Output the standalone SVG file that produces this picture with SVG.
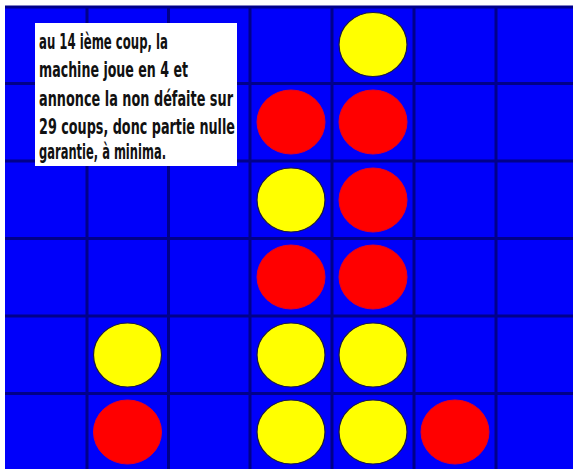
<svg xmlns="http://www.w3.org/2000/svg" width="573" height="469" viewBox="0 0 573 469">
  <defs>
    <filter id="soft" x="-5%" y="-5%" width="110%" height="110%">
      <feGaussianBlur stdDeviation="0.7"/>
    </filter>
  </defs>
  <style>
    .grid line { stroke: #00008a; stroke-width: 3; }
    .y { fill: #ffff00; stroke: #1a1a40; stroke-width: 1.2; }
    .r { fill: #ff0000; stroke: #e80020; stroke-width: 1; }
    .note text { font-family: "DejaVu Sans Condensed", "DejaVu Sans", "Liberation Sans", sans-serif; font-weight: bold; font-size: 22px; fill: #111111; }
  </style>
  <rect x="0" y="0" width="573" height="469" fill="#ffffff"/>
  <rect x="5" y="6" width="568" height="463" fill="#0000fa"/>
  <g class="grid" filter="url(#soft)">
    <line x1="5" y1="7" x2="573" y2="7"/>
    <line x1="5" y1="83.5" x2="573" y2="83.5"/>
    <line x1="5" y1="161" x2="573" y2="161"/>
    <line x1="5" y1="238.5" x2="573" y2="238.5"/>
    <line x1="5" y1="316" x2="573" y2="316"/>
    <line x1="5" y1="393.5" x2="573" y2="393.5"/>
    <line x1="87" y1="6" x2="87" y2="469"/>
    <line x1="168.5" y1="6" x2="168.5" y2="469"/>
    <line x1="250" y1="6" x2="250" y2="469"/>
    <line x1="332" y1="6" x2="332" y2="469"/>
    <line x1="414" y1="6" x2="414" y2="469"/>
    <line x1="496" y1="6" x2="496" y2="469"/>
  </g>
  <g id="pieces">
    <g id="p-r0-c4"><ellipse class="y" cx="373" cy="44.5" rx="34" ry="32"/></g>
    <g id="p-r1-c3"><ellipse class="r" cx="291" cy="122" rx="34" ry="32"/></g>
    <g id="p-r1-c4"><ellipse class="r" cx="373" cy="122" rx="34" ry="32"/></g>
    <g id="p-r2-c3"><ellipse class="y" cx="291" cy="200" rx="34" ry="32"/></g>
    <g id="p-r2-c4"><ellipse class="r" cx="373" cy="200" rx="34" ry="32"/></g>
    <g id="p-r3-c3"><ellipse class="r" cx="291" cy="277" rx="34" ry="32"/></g>
    <g id="p-r3-c4"><ellipse class="r" cx="373" cy="277" rx="34" ry="32"/></g>
    <g id="p-r4-c1"><ellipse class="y" cx="127.5" cy="355" rx="34" ry="32"/></g>
    <g id="p-r4-c3"><ellipse class="y" cx="291" cy="355" rx="34" ry="32"/></g>
    <g id="p-r4-c4"><ellipse class="y" cx="373" cy="355" rx="34" ry="32"/></g>
    <g id="p-r5-c1"><ellipse class="r" cx="127.5" cy="432" rx="34" ry="32"/></g>
    <g id="p-r5-c3"><ellipse class="y" cx="291" cy="432" rx="34" ry="32"/></g>
    <g id="p-r5-c4"><ellipse class="y" cx="373" cy="432" rx="34" ry="32"/></g>
    <g id="p-r5-c5"><ellipse class="r" cx="455" cy="432" rx="34" ry="32"/></g>
  </g>
  <g id="note" class="note">
    <rect x="35" y="23" width="202" height="143" fill="#ffffff"/>
    <text x="39" y="49" textLength="129" lengthAdjust="spacingAndGlyphs">au 14 ième coup, la</text>
    <text x="39" y="77" textLength="149" lengthAdjust="spacingAndGlyphs">machine joue en 4 et</text>
    <text x="39" y="106" textLength="194" lengthAdjust="spacingAndGlyphs">annonce la non défaite sur</text>
    <text x="39" y="134" textLength="196" lengthAdjust="spacingAndGlyphs">29 coups, donc partie nulle</text>
    <text x="39" y="159" textLength="127" lengthAdjust="spacingAndGlyphs">garantie, à minima.</text>
  </g>
</svg>
